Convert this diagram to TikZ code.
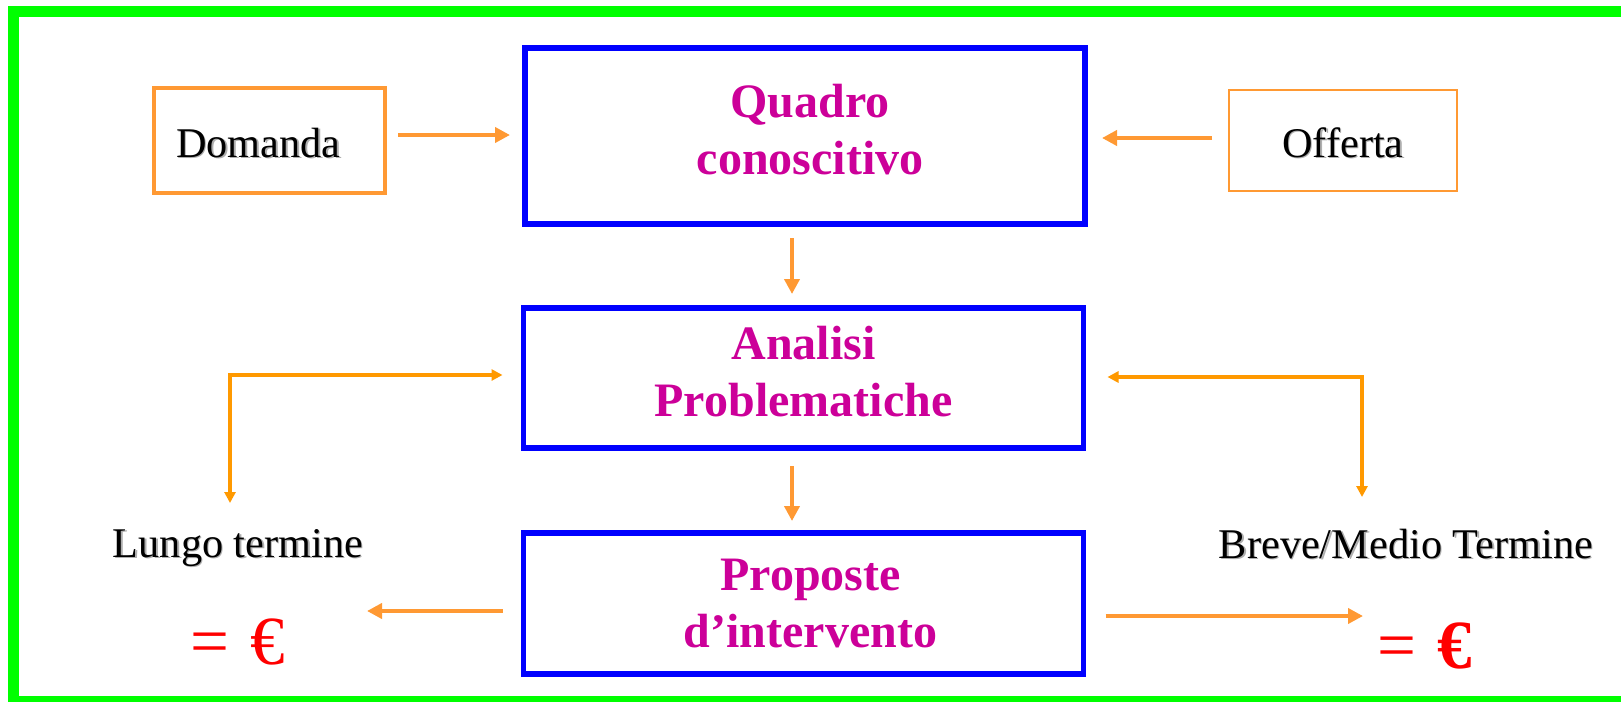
\documentclass[tikz,border=0pt]{standalone}
\usepackage{fontspec}
\setmainfont{Liberation Serif}
\usetikzlibrary{arrows.meta,calc}
\definecolor{frgreen}{RGB}{0,255,0}
\definecolor{boxblue}{RGB}{0,0,255}
\definecolor{mag}{RGB}{204,0,153}
\definecolor{orA}{RGB}{255,153,51}
\definecolor{orB}{RGB}{255,153,0}
\definecolor{shd}{RGB}{175,175,175}
\newcommand\shadowtext[1]{\rlap{\kern1.5pt\raisebox{-1.5pt}{\textcolor{shd}{#1}}}#1}
\begin{document}
\begin{tikzpicture}[x=1pt,y=-1pt,
  plainlbl/.style={font=\fontsize{42.3}{50}\selectfont, inner sep=0pt, outer sep=0pt},
  orbox/.style={plainlbl, draw=orA},
  titlebox/.style={draw=boxblue, line width=5.5pt, inner sep=0pt, outer sep=0pt,
    minimum width=560pt, align=center, text=mag,
    font=\fontsize{48}{57}\selectfont\bfseries},
  arr/.style={orA, line width=4pt, -{Triangle[length=15pt,width=15pt]}},
  looparr/.style={orB, line width=4.2pt,
    {Triangle[length=11pt,width=11pt]}-{Triangle[length=11pt,width=11pt]}},
  euro/.style={text=red, font=\fontsize{69}{80}\selectfont, inner sep=0pt, anchor=base}]
\useasboundingbox (0,0) rectangle (1621,701);
\fill[white] (0,0) rectangle (1621,701);
\draw[frgreen, line width=11pt] (13,11.5) rectangle (1632,701.5);

% boxes
\node[orbox, line width=3.5pt, minimum width=231pt, minimum height=105pt] (dom) at (269.5,140.5)
  {\rule{0pt}{35pt}\shadowtext{Domanda}\hspace*{22pt}};
\node[orbox, line width=2pt, minimum width=228pt, minimum height=101pt] (off) at (1343,140.5)
  {\rule{0pt}{35pt}\shadowtext{Offerta}};
\node[titlebox, minimum height=176pt] (quadro) at (805,136)
  {\hspace*{10pt}Quadro\\\hspace*{10pt}conoscitivo\rule[-13pt]{0pt}{13pt}};
\node[titlebox, minimum height=140pt] (anal) at (803.5,378)
  {Analisi\\Problematiche\rule[-13pt]{0pt}{13pt}};
\node[titlebox, minimum height=141pt] (prop) at (803.5,603.5)
  {\hspace*{14pt}Proposte\\\hspace*{14pt}d’intervento};

% labels
\node[plainlbl, anchor=base] (lungo) at (238,557) {\shadowtext{Lungo termine}};
\node[plainlbl, anchor=base] (breve) at (1406,558) {\shadowtext{Breve/Medio Termine}};
\node[euro] (eurl) at (238,664) {=\hspace{0.3em}€};
\node[euro] (eurr) at (1425,668) {=\hspace{0.3em}\textbf{€}};

% free ends
\coordinate (lt) at (230,503);
\coordinate (bt) at (1362,497);
\coordinate (ll) at (367,611);
\coordinate (rr) at (1363,616);

% connectors
\draw[arr] ($(dom.east)+(13,-5.5)$) -- ($(dom.east -| quadro.west)+(-15,-5.5)$);
\draw[arr] ($(off.west)+(-17,-2.5)$) -- ($(off.west -| quadro.east)+(17,-2.5)$);
\draw[arr] ($(quadro.south)+(-13,14)$) -- ($(anal.north)+(-11.5,-14)$);
\draw[arr] ($(anal.south)+(-11.5,18)$) -- ($(prop.north)+(-11.5,-12)$);
\draw[looparr] ($(anal.west)+(-21,-3)$) -| (lt);
\draw[looparr] ($(anal.east)+(24,-1)$) -| (bt);
\draw[arr] ($(prop.west)+(-21,7.5)$) -- (ll);
\draw[arr] ($(prop.east)+(22,12.5)$) -- (rr);
\end{tikzpicture}
\end{document}
